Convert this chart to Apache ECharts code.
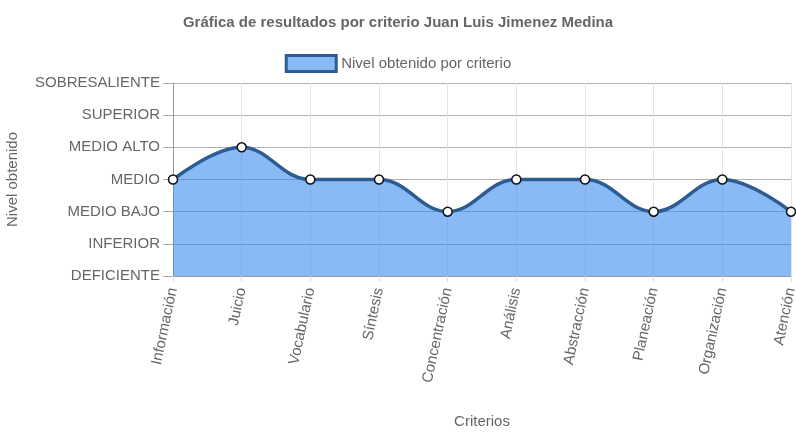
<!DOCTYPE html>
<html><head><meta charset="utf-8">
<script src="https://cdn.jsdelivr.net/npm/echarts@6/dist/echarts.min.js"></script>
<style>html,body{margin:0;padding:0;background:#fff}#c{width:796px;height:435px}</style>
</head><body><div id="c"></div>
<script>
const categories = ['Información','Juicio','Vocabulario','Síntesis','Concentración','Análisis','Abstracción','Planeación','Organización','Atención'];
const levels = ['DEFICIENTE','INFERIOR','MEDIO BAJO','MEDIO','MEDIO ALTO','SUPERIOR','SOBRESALIENTE'];
const values = [3,4,3,3,2,3,3,2,3,2];
const seriesName = 'Nivel obtenido por criterio';
const titleText = 'Gráfica de resultados por criterio Juan Luis Jimenez Medina';

const chart = echarts.init(document.getElementById('c'));
const font = 'Liberation Sans, Arial, sans-serif';
chart.setOption({
  animation:false,
  title:{text:titleText,left:'center',top:10,textStyle:{fontFamily:font,fontSize:15,fontWeight:'bold',color:'#666'}},
  legend:{top:49,left:'center',itemWidth:50,itemHeight:16,itemGap:6,
    textStyle:{fontFamily:font,fontSize:15,color:'#666'},
    data:[{name:seriesName,icon:'rect',itemStyle:{color:'rgba(60,140,238,0.6)',borderColor:'#2d5c92',borderWidth:3}}]},
  grid:{left:173,right:5,top:83,bottom:159,containLabel:false,outerBoundsMode:'none'},
  xAxis:{type:'category',data:categories,boundaryGap:false,
    name:'Criterios',nameLocation:'middle',nameGap:138,
    nameTextStyle:{fontFamily:font,fontSize:15,color:'#666'},
    axisLine:{lineStyle:{color:'#999'}},
    axisTick:{show:true,length:6,lineStyle:{color:'#ddd'}},
    axisLabel:{rotate:78,fontFamily:font,fontSize:15,color:'#666',margin:12},
    splitLine:{show:true,lineStyle:{color:'#e4e4e4'}}},
  yAxis:{type:'value',min:0,max:6,interval:1,
    name:'Nivel obtenido',nameLocation:'middle',nameGap:153,
    nameTextStyle:{fontFamily:font,fontSize:15,color:'#666'},
    axisLine:{show:true,lineStyle:{color:'#999'}},
    axisTick:{show:true,length:10,lineStyle:{color:'#aaa'}},
    axisLabel:{fontFamily:font,fontSize:15,color:'#666',margin:13,formatter:v=>levels[v]||''},
    splitLine:{show:true,lineStyle:{color:'#b0b0b0'}}},
  series:[{name:seriesName,type:'line',data:values,smooth:0.4,
    symbol:'circle',symbolSize:9,
    itemStyle:{color:'#fff',borderColor:'#111',borderWidth:1.5},
    lineStyle:{color:'#2d5c92',width:3.5},
    areaStyle:{color:'rgba(60,140,238,0.6)',origin:'start',opacity:1},
    z:3}]
});
</script></body></html>
